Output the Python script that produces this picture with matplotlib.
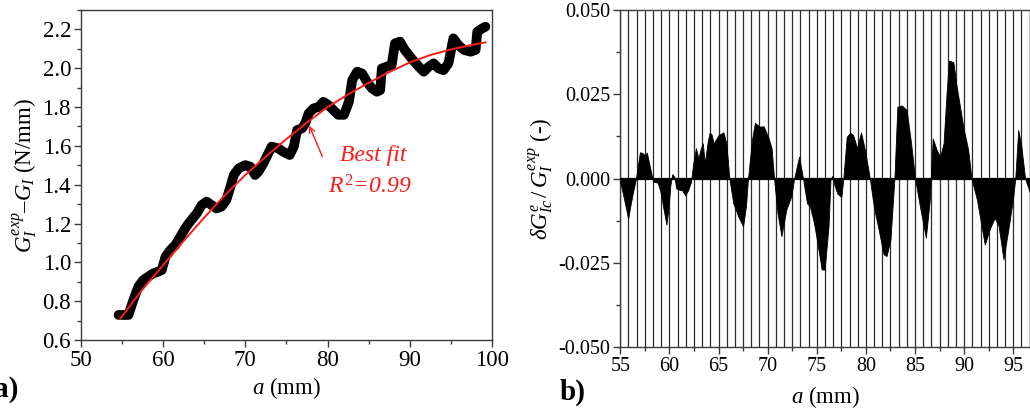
import numpy as np
import matplotlib
matplotlib.use("Agg")
import matplotlib.pyplot as plt
from matplotlib.ticker import MultipleLocator, FormatStrFormatter

plt.rcParams["font.family"] = ["Liberation Serif", "DejaVu Serif"]
plt.rcParams["mathtext.fontset"] = "custom"
plt.rcParams["mathtext.rm"] = "Liberation Serif"
plt.rcParams["mathtext.it"] = "Liberation Serif:italic"
plt.rcParams["mathtext.bf"] = "Liberation Serif:bold"
plt.rcParams["axes.unicode_minus"] = False

# (a) measured energy release rate and its best fit
crack_a = [54.6, 55.8, 56.4, 57.0, 57.6, 58.2, 58.8, 59.4, 59.85, 60.3, 60.9, 61.5,
           62.1, 62.7, 63.1, 64.1, 64.7, 65.3, 65.9, 66.5, 67.1, 67.7, 68.2, 68.6,
           69.2, 70.0, 70.6, 71.2, 71.6, 72.2, 72.8, 73.2, 74.0, 74.6, 75.4, 75.9,
           76.3, 76.9, 77.3, 77.7, 78.3, 78.9, 79.5, 80.1, 80.7, 81.3, 82.0, 82.6,
           83.0, 83.6, 84.2, 84.8, 85.4, 86.0, 86.4, 86.6, 87.2, 87.8, 88.2, 88.8,
           89.4, 90.2, 91.1, 91.7, 92.3, 92.9, 93.5, 94.1, 94.7, 95.3, 95.9, 96.6,
           97.4, 98.0, 98.2, 98.8, 99.2]
g_exp = [0.729, 0.729, 0.806, 0.875, 0.909, 0.926, 0.943, 0.952, 0.96, 1.029, 1.064, 1.089,
         1.132, 1.175, 1.20, 1.252, 1.295, 1.313, 1.295, 1.278, 1.287, 1.321, 1.39, 1.45,
         1.484, 1.501, 1.493, 1.45, 1.467, 1.51, 1.561, 1.596, 1.588, 1.57, 1.553, 1.596,
         1.681, 1.69, 1.716, 1.767, 1.793, 1.80, 1.827, 1.81, 1.785, 1.76, 1.76, 1.827,
         1.939, 1.982, 1.973, 1.93, 1.896, 1.879, 1.887, 1.999, 2.008, 2.016, 2.128, 2.137,
         2.094, 2.051, 2.008, 1.982, 2.008, 2.025, 1.999, 1.99, 2.025, 2.154, 2.119, 2.094,
         2.085, 2.094, 2.188, 2.205, 2.214]

fit_a = [54.8, 57.5, 60.0, 62.5, 65.0, 67.5, 70.0, 72.5, 75.0, 77.5, 80.0, 82.5,
         85.0, 87.5, 90.0, 92.5, 95.0, 97.5, 99.2]
fit_g = [0.71, 0.86, 0.985, 1.11, 1.23, 1.345, 1.45, 1.545, 1.635, 1.72, 1.80, 1.865,
         1.925, 1.98, 2.03, 2.068, 2.097, 2.12, 2.133]

# (b) relative deviation along the crack
dev_a = [55.0, 55.3, 55.6, 55.8, 56.0, 56.3, 56.6, 56.8, 57.0, 57.3, 57.5, 57.7, 57.9,
         58.2, 58.4, 58.8, 59.1, 59.4, 59.7, 59.9, 60.1, 60.3, 60.5, 60.7, 61.0, 61.3,
         61.6, 61.9, 62.2, 62.4, 62.7, 62.95, 63.2, 63.4, 63.6, 63.9, 64.1, 64.3, 64.5,
         65.0, 65.5, 65.8, 66.1, 66.5, 67.0, 67.5, 67.8, 68.0, 68.4, 68.7, 69.2, 69.6,
         70.1, 70.4, 70.65, 71.0, 71.4, 71.9, 72.4, 72.7, 73.0, 73.2, 73.6, 74.0, 74.3,
         74.7, 75.0, 75.5, 75.8, 76.2, 76.4, 76.6, 76.8, 77.1, 77.5, 77.7, 78.05, 78.4,
         78.7, 79.1, 79.5, 79.9, 80.4, 80.8, 81.3, 81.8, 82.1, 82.5, 82.9, 83.2, 83.65,
         84.15, 84.6, 85.0, 85.5, 86.1, 86.5, 86.6, 86.8, 87.2, 87.55, 87.9, 88.2, 88.45,
         88.9, 89.2, 89.9, 90.4, 90.75, 91.3, 92.0, 92.1, 92.6, 93.1, 93.5, 94.0, 94.5,
         95.0, 95.2, 95.5, 95.8, 96.2, 96.7]
dev_val = [-0.001, -0.005, -0.009, -0.012, -0.0085, -0.004, 0.0, 0.004, 0.0078, 0.0075,
           0.0068, 0.0077, 0.005, 0.001, -0.001, -0.0012, -0.004, -0.009, -0.0137, -0.009,
           -0.002, 0.0013, 0.0005, -0.003, -0.0033, -0.0035, -0.005, -0.0035, -0.001, 0.004,
           0.009, 0.006, 0.009, 0.0104, 0.0045, 0.011, 0.0136, 0.013, 0.0104, 0.0129,
           0.0137, 0.0104, 0.0, -0.0073, -0.0112, -0.0142, -0.008, 0.0, 0.0114, 0.0165,
           0.0154, 0.0155, 0.0119, 0.009, 0.0, -0.0102, -0.0171, -0.0092, -0.0053, 0.0,
           0.004, 0.0065, 0.0, -0.0073, -0.0083, -0.013, -0.018, -0.027, -0.027, -0.014,
           0.0, 0.0008, -0.002, -0.0045, -0.0055, 0.0, 0.0124, 0.0136, 0.0129, 0.009,
           0.0137, 0.0085, 0.0, -0.0083, -0.0152, -0.0225, -0.023, -0.018, 0.0, 0.0213,
           0.0217, 0.0203, 0.0104, 0.0, -0.0083, -0.0176, -0.0063, 0.0, 0.0119, 0.0085,
           0.0065, 0.0104, 0.025, 0.035, 0.0345, 0.028, 0.0155, 0.0086, 0.0, -0.0063,
           -0.018, -0.0196, -0.015, -0.0117, -0.014, -0.024, -0.015, -0.0053, 0.0, 0.0144,
           0.010, 0.0, -0.0043]

LABEL_FS = 16.5
SPINE_C = "#3a3a3a"
RED = "#ff1a1a"

fig = plt.figure(figsize=(10.30, 4.18), dpi=100)

# ---------- panel a ----------
ax1 = fig.add_axes([0.0784, 0.1866, 0.3993, 0.7895])
ax1.plot(crack_a, g_exp, color="black", lw=7, solid_capstyle="round",
         solid_joinstyle="round", zorder=2)
ax1.plot(fit_a, fit_g, color=RED, lw=1.4, zorder=3)
ax1.set_xlim(50, 100)
ax1.set_ylim(0.6, 2.3)
ax1.xaxis.set_major_locator(MultipleLocator(10))
ax1.xaxis.set_minor_locator(MultipleLocator(5))
ax1.set_yticks([0.6, 0.8, 1.0, 1.2, 1.4, 1.6, 1.8, 2.0, 2.2])
ax1.yaxis.set_minor_locator(MultipleLocator(0.1))
ax1.yaxis.set_major_formatter(FormatStrFormatter("%.1f"))
ax1.set_xlabel(r"$a$ (mm)", fontsize=LABEL_FS, labelpad=3)
ax1.set_ylabel(r"$G_I^{exp}$–$G_I$ (N/mm)", fontsize=LABEL_FS, labelpad=2)

ax1.annotate("", xy=(77.65, 1.717), xytext=(79.5, 1.532),
             arrowprops=dict(arrowstyle="->", color=RED, lw=1.0,
                             mutation_scale=10))
fig.text(0.362, 0.629, "Best fit", color=RED, fontsize=17,
         style="italic", ha="center", va="center")
fig.text(0.359, 0.553, r"$R^2$=0.99", color=RED, fontsize=17,
         style="italic", ha="center", va="center")

# ---------- panel b ----------
ax2 = fig.add_axes([0.6022, 0.1699, 0.3978, 0.8061])
ax2.fill_between(dev_a, 0, dev_val, color="black", lw=0.6, zorder=3)
ax2.axhline(0, color="black", lw=1.6, zorder=4)
ax2.set_xlim(55, 96.7)
ax2.set_ylim(-0.05, 0.05)
ax2.xaxis.set_major_locator(MultipleLocator(5))
ax2.xaxis.set_minor_locator(MultipleLocator(2.5))
ax2.yaxis.set_major_locator(MultipleLocator(0.025))
ax2.yaxis.set_minor_locator(MultipleLocator(0.0125))
ax2.yaxis.set_major_formatter(FormatStrFormatter("%.3f"))
ax2.set_xlabel(r"$a$ (mm)", fontsize=LABEL_FS, labelpad=6)
ax2.set_ylabel(r"$\delta G^{e}_{Ic}\,/\,G^{exp}_{I}$ (-)", fontsize=LABEL_FS, labelpad=2)

# fine vertical reference grid behind the filled deviation
grid_ax = ax2.twiny()
grid_ax.set_xlim(ax2.get_xlim())
grid_ax.xaxis.set_major_locator(MultipleLocator(5 / 6))
grid_ax.grid(True, axis="x", color="#2a2a2a", lw=0.9)
grid_ax.tick_params(axis="x", length=0, labeltop=False)
for s in grid_ax.spines.values():
    s.set_visible(False)
grid_ax.set_zorder(ax2.get_zorder() - 1)
ax2.patch.set_visible(False)

for ax, fs in ((ax1, 16.5), (ax2, 14.5)):
    for s in ax.spines.values():
        s.set_color(SPINE_C)
        s.set_linewidth(1.0)
    ax.tick_params(which="both", direction="out", top=False, right=False,
                   labelsize=fs, color=SPINE_C, width=1.0)
    ax.tick_params(which="major", length=5, pad=2)
    ax.tick_params(which="minor", length=3)

fig.text(0.0175, 0.067, "a)", fontsize=21, fontweight="bold", ha="right", va="center")
fig.text(0.5437, 0.062, "b)", fontsize=21, fontweight="bold", ha="left", va="center")

fig.savefig("out.png", dpi=100)
